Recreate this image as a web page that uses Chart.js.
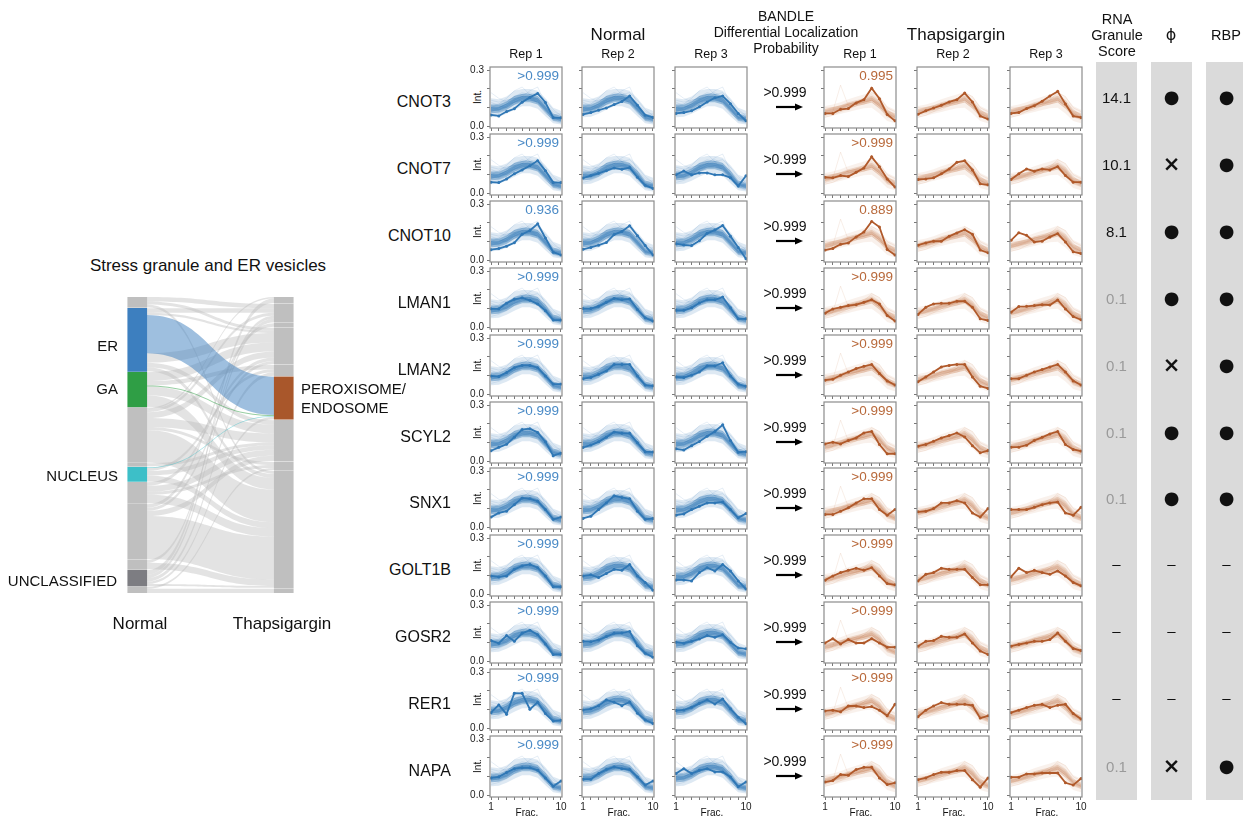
<!DOCTYPE html>
<html>
<head>
<meta charset="utf-8">
<script src="https://cdn.jsdelivr.net/npm/chart.js@4.4.1/dist/chart.umd.min.js"></script>
<style>
  body { margin: 0; background: #fff; font-family: 'Liberation Sans', Arial, sans-serif; color: #111; }
  #page { position: relative; width: 1243px; height: 819px; overflow: hidden; background: #fff; }
  .t { position: absolute; white-space: nowrap; line-height: 1; }
  canvas { position: absolute; }
  .col { position: absolute; background: #dadada; }
  svg { position: absolute; }
</style>
</head>
<body>
<div id="page"></div>
<script>
// ---- data ----
const fractions = [1, 2, 3, 4, 5, 6, 7, 8, 9, 10];
const yTicks = [0, 0.05, 0.1, 0.15, 0.2, 0.25, 0.3];
const proteins = ["CNOT3", "CNOT7", "CNOT10", "LMAN1", "LMAN2", "SCYL2", "SNX1", "GOLT1B", "GOSR2", "RER1", "NAPA"];

const normalRep1 = [
  [0.062, 0.057, 0.080, 0.095, 0.130, 0.155, 0.176, 0.128, 0.048, 0.047],
  [0.061, 0.059, 0.078, 0.105, 0.126, 0.148, 0.174, 0.122, 0.059, 0.059],
  [0.058, 0.064, 0.077, 0.095, 0.140, 0.160, 0.195, 0.120, 0.045, 0.030],
  [0.100, 0.100, 0.130, 0.150, 0.158, 0.145, 0.125, 0.090, 0.040, 0.040],
  [0.099, 0.096, 0.117, 0.143, 0.155, 0.155, 0.143, 0.099, 0.056, 0.056],
  [0.058, 0.076, 0.092, 0.130, 0.170, 0.175, 0.155, 0.105, 0.032, 0.045],
  [0.056, 0.078, 0.087, 0.122, 0.157, 0.153, 0.140, 0.096, 0.044, 0.056],
  [0.099, 0.094, 0.099, 0.134, 0.152, 0.160, 0.143, 0.099, 0.042, 0.042],
  [0.112, 0.098, 0.138, 0.108, 0.150, 0.167, 0.143, 0.094, 0.038, 0.038],
  [0.085, 0.126, 0.077, 0.188, 0.187, 0.103, 0.140, 0.080, 0.040, 0.044],
  [0.094, 0.100, 0.123, 0.143, 0.148, 0.148, 0.135, 0.093, 0.050, 0.078]
];
const normalRep2 = [
  [0.065, 0.075, 0.087, 0.099, 0.117, 0.133, 0.162, 0.113, 0.061, 0.049],
  [0.083, 0.096, 0.108, 0.122, 0.136, 0.129, 0.138, 0.087, 0.044, 0.028],
  [0.060, 0.070, 0.082, 0.096, 0.138, 0.155, 0.185, 0.132, 0.080, 0.030],
  [0.101, 0.101, 0.113, 0.134, 0.155, 0.148, 0.152, 0.096, 0.052, 0.035],
  [0.085, 0.091, 0.108, 0.126, 0.160, 0.160, 0.160, 0.099, 0.051, 0.047],
  [0.075, 0.088, 0.105, 0.130, 0.157, 0.150, 0.150, 0.100, 0.053, 0.051],
  [0.049, 0.061, 0.096, 0.131, 0.169, 0.160, 0.153, 0.087, 0.044, 0.049],
  [0.099, 0.105, 0.091, 0.112, 0.134, 0.129, 0.160, 0.099, 0.065, 0.024],
  [0.108, 0.106, 0.115, 0.133, 0.150, 0.152, 0.160, 0.085, 0.045, 0.024],
  [0.099, 0.105, 0.122, 0.152, 0.140, 0.122, 0.141, 0.082, 0.046, 0.028],
  [0.087, 0.087, 0.117, 0.138, 0.152, 0.143, 0.138, 0.099, 0.056, 0.078]
];
const normalRep3 = [
  [0.070, 0.075, 0.084, 0.105, 0.131, 0.153, 0.162, 0.122, 0.070, 0.031],
  [0.100, 0.120, 0.100, 0.110, 0.110, 0.100, 0.100, 0.085, 0.040, 0.095],
  [0.090, 0.083, 0.080, 0.105, 0.145, 0.162, 0.186, 0.130, 0.070, 0.010],
  [0.092, 0.092, 0.105, 0.131, 0.148, 0.148, 0.162, 0.105, 0.047, 0.047],
  [0.094, 0.091, 0.103, 0.120, 0.152, 0.152, 0.169, 0.099, 0.056, 0.044],
  [0.068, 0.062, 0.085, 0.107, 0.134, 0.160, 0.195, 0.112, 0.050, 0.053],
  [0.066, 0.073, 0.096, 0.113, 0.131, 0.131, 0.136, 0.096, 0.052, 0.075],
  [0.078, 0.078, 0.073, 0.117, 0.143, 0.126, 0.160, 0.126, 0.073, 0.030],
  [0.103, 0.098, 0.108, 0.120, 0.138, 0.129, 0.143, 0.103, 0.073, 0.068],
  [0.096, 0.099, 0.113, 0.134, 0.152, 0.131, 0.157, 0.105, 0.061, 0.026],
  [0.117, 0.143, 0.117, 0.134, 0.143, 0.126, 0.126, 0.099, 0.047, 0.073]
];
const thapRep1 = [
  [0.070, 0.070, 0.092, 0.096, 0.126, 0.143, 0.204, 0.148, 0.065, 0.031],
  [0.087, 0.084, 0.096, 0.091, 0.113, 0.136, 0.195, 0.143, 0.078, 0.035],
  [0.056, 0.065, 0.087, 0.094, 0.126, 0.152, 0.208, 0.178, 0.059, 0.030],
  [0.077, 0.099, 0.108, 0.117, 0.122, 0.134, 0.148, 0.126, 0.065, 0.035],
  [0.077, 0.082, 0.103, 0.120, 0.138, 0.150, 0.160, 0.112, 0.073, 0.051],
  [0.094, 0.103, 0.094, 0.112, 0.126, 0.152, 0.160, 0.091, 0.042, 0.042],
  [0.070, 0.070, 0.087, 0.105, 0.131, 0.153, 0.153, 0.096, 0.066, 0.096],
  [0.077, 0.099, 0.117, 0.129, 0.140, 0.129, 0.143, 0.099, 0.059, 0.052],
  [0.099, 0.122, 0.094, 0.117, 0.099, 0.099, 0.122, 0.099, 0.077, 0.077],
  [0.094, 0.098, 0.089, 0.120, 0.120, 0.112, 0.117, 0.098, 0.068, 0.129],
  [0.072, 0.080, 0.112, 0.108, 0.138, 0.150, 0.150, 0.094, 0.059, 0.068]
];
const thapRep2 = [
  [0.066, 0.084, 0.099, 0.113, 0.131, 0.143, 0.178, 0.131, 0.056, 0.040],
  [0.075, 0.078, 0.084, 0.105, 0.131, 0.166, 0.174, 0.126, 0.052, 0.047],
  [0.082, 0.094, 0.103, 0.103, 0.129, 0.147, 0.164, 0.140, 0.056, 0.042],
  [0.070, 0.108, 0.126, 0.129, 0.129, 0.140, 0.140, 0.108, 0.047, 0.038],
  [0.068, 0.094, 0.120, 0.147, 0.155, 0.160, 0.160, 0.094, 0.045, 0.033],
  [0.082, 0.091, 0.108, 0.126, 0.138, 0.152, 0.131, 0.085, 0.047, 0.059],
  [0.084, 0.087, 0.101, 0.131, 0.131, 0.143, 0.131, 0.078, 0.056, 0.101],
  [0.073, 0.108, 0.117, 0.140, 0.134, 0.134, 0.134, 0.091, 0.052, 0.052],
  [0.082, 0.108, 0.112, 0.134, 0.129, 0.129, 0.147, 0.099, 0.056, 0.038],
  [0.063, 0.098, 0.120, 0.138, 0.129, 0.129, 0.129, 0.124, 0.056, 0.068],
  [0.085, 0.094, 0.112, 0.124, 0.124, 0.133, 0.133, 0.085, 0.045, 0.094]
];
const thapRep3 = [
  [0.070, 0.075, 0.096, 0.111, 0.135, 0.163, 0.187, 0.120, 0.056, 0.049],
  [0.075, 0.105, 0.131, 0.119, 0.131, 0.126, 0.143, 0.096, 0.061, 0.061],
  [0.108, 0.148, 0.134, 0.099, 0.103, 0.126, 0.143, 0.099, 0.047, 0.038],
  [0.082, 0.112, 0.113, 0.117, 0.122, 0.120, 0.147, 0.099, 0.059, 0.042],
  [0.085, 0.085, 0.103, 0.120, 0.133, 0.147, 0.160, 0.120, 0.073, 0.051],
  [0.077, 0.077, 0.087, 0.112, 0.129, 0.147, 0.160, 0.091, 0.065, 0.056],
  [0.096, 0.096, 0.096, 0.108, 0.122, 0.131, 0.136, 0.078, 0.066, 0.108],
  [0.094, 0.140, 0.117, 0.129, 0.117, 0.108, 0.126, 0.099, 0.065, 0.047],
  [0.082, 0.091, 0.099, 0.108, 0.108, 0.117, 0.152, 0.108, 0.070, 0.059],
  [0.085, 0.098, 0.112, 0.124, 0.129, 0.112, 0.124, 0.129, 0.080, 0.051],
  [0.098, 0.098, 0.115, 0.115, 0.120, 0.120, 0.120, 0.068, 0.056, 0.091]
];

// cluster envelopes and member profiles drawn behind each protein
const normalOuterLo = [0.050, 0.052, 0.068, 0.090, 0.108, 0.108, 0.095, 0.055, 0.018, 0.012];
const normalOuterHi = [0.150, 0.145, 0.160, 0.190, 0.200, 0.200, 0.190, 0.150, 0.100, 0.085];
const normalInnerLo = [0.072, 0.074, 0.090, 0.115, 0.130, 0.130, 0.118, 0.075, 0.032, 0.025];
const normalInnerHi = [0.118, 0.118, 0.135, 0.163, 0.175, 0.175, 0.162, 0.120, 0.068, 0.058];
const normalCoreLo = [0.082, 0.084, 0.100, 0.126, 0.140, 0.140, 0.128, 0.085, 0.040, 0.032];
const normalCoreHi = [0.106, 0.106, 0.123, 0.150, 0.163, 0.163, 0.150, 0.108, 0.058, 0.048];
const normalMembers = [
  [0.08, 0.09, 0.11, 0.14, 0.16, 0.16, 0.14, 0.10, 0.05, 0.03],
  [0.11, 0.11, 0.13, 0.16, 0.17, 0.16, 0.15, 0.11, 0.06, 0.05],
  [0.07, 0.08, 0.10, 0.13, 0.15, 0.15, 0.14, 0.09, 0.04, 0.03],
  [0.12, 0.12, 0.14, 0.15, 0.16, 0.15, 0.13, 0.09, 0.05, 0.04],
  [0.09, 0.10, 0.12, 0.16, 0.18, 0.17, 0.15, 0.10, 0.04, 0.02],
  [0.10, 0.09, 0.11, 0.13, 0.14, 0.15, 0.15, 0.12, 0.07, 0.05],
  [0.14, 0.13, 0.14, 0.15, 0.17, 0.18, 0.16, 0.12, 0.08, 0.06],
  [0.06, 0.07, 0.09, 0.12, 0.14, 0.14, 0.13, 0.08, 0.03, 0.02],
  [0.18, 0.15, 0.13, 0.14, 0.16, 0.19, 0.21, 0.12, 0.05, 0.04],
  [0.10, 0.12, 0.15, 0.19, 0.21, 0.17, 0.12, 0.07, 0.04, 0.05],
  [0.08, 0.10, 0.12, 0.13, 0.15, 0.17, 0.18, 0.14, 0.09, 0.06],
  [0.13, 0.11, 0.10, 0.12, 0.14, 0.14, 0.13, 0.10, 0.06, 0.07]
];
const thapOuterLo = [0.048, 0.058, 0.068, 0.078, 0.088, 0.098, 0.100, 0.070, 0.030, 0.018];
const thapOuterHi = [0.110, 0.118, 0.130, 0.145, 0.158, 0.170, 0.185, 0.160, 0.110, 0.090];
const thapInnerLo = [0.064, 0.074, 0.084, 0.098, 0.108, 0.118, 0.128, 0.095, 0.050, 0.035];
const thapInnerHi = [0.094, 0.104, 0.114, 0.130, 0.140, 0.150, 0.165, 0.138, 0.088, 0.068];
const thapCoreLo = [0.071, 0.081, 0.091, 0.106, 0.116, 0.126, 0.138, 0.106, 0.060, 0.043];
const thapCoreHi = [0.087, 0.097, 0.107, 0.122, 0.132, 0.142, 0.156, 0.127, 0.078, 0.059];
const thapMembers = [
  [0.07, 0.08, 0.09, 0.10, 0.12, 0.13, 0.15, 0.12, 0.07, 0.05],
  [0.08, 0.09, 0.10, 0.11, 0.12, 0.14, 0.16, 0.13, 0.08, 0.06],
  [0.06, 0.07, 0.08, 0.10, 0.11, 0.12, 0.14, 0.11, 0.06, 0.04],
  [0.09, 0.10, 0.11, 0.12, 0.13, 0.13, 0.14, 0.11, 0.07, 0.05],
  [0.07, 0.08, 0.10, 0.12, 0.13, 0.15, 0.17, 0.14, 0.09, 0.06],
  [0.10, 0.10, 0.11, 0.12, 0.12, 0.12, 0.13, 0.10, 0.08, 0.07],
  [0.05, 0.06, 0.08, 0.09, 0.11, 0.14, 0.18, 0.16, 0.10, 0.08]
];
const thapRep1Outlier = [0.06, 0.08, 0.22, 0.11, 0.12, 0.13, 0.14, 0.12, 0.07, 0.04];

const normalProb = [">0.999", ">0.999", "0.936", ">0.999", ">0.999", ">0.999", ">0.999", ">0.999", ">0.999", ">0.999", ">0.999"];
const thapProb = ["0.995", ">0.999", "0.889", ">0.999", ">0.999", ">0.999", ">0.999", ">0.999", ">0.999", ">0.999", ">0.999"];
const bandleProb = [">0.999", ">0.999", ">0.999", ">0.999", ">0.999", ">0.999", ">0.999", ">0.999", ">0.999", ">0.999", ">0.999"];
const rnaScore = ["14.1", "10.1", "8.1", "0.1", "0.1", "0.1", "0.1", "–", "–", "–", "0.1"];
const phiMark = ["●", "×", "●", "●", "×", "●", "●", "–", "–", "–", "×"];
const rbpMark = ["●", "●", "●", "●", "●", "●", "●", "–", "–", "–", "●"];

// sankey: node order per column and flows (source, target, share)
const normalNodes = ["n1", "ER", "GA", "n2", "n3", "NUCLEUS", "n4", "n5", "n6", "UNCLASSIFIED", "n7"];
const thapNodes = ["t1", "t2", "t3", "t4", "t5", "PEROXISOME", "t6", "t7", "t8", "t9"];
const flows = [
  ["n1", "t2", 1.5], ["n1", "t4", 1.0], ["n1", "t8", 1.0],
  ["ER", "t2", 1.5], ["ER", "t4", 0.8], ["ER", "PEROXISOME", 12.9], ["ER", "t4", 3.2], ["ER", "t6", 1.5], ["ER", "t8", 1.4],
  ["GA", "t4", 3.0], ["GA", "t5", 1.5], ["GA", "PEROXISOME", 0.3], ["GA", "t6", 3.0], ["GA", "t8", 3.9],
  ["n2", "t1", 0.5], ["n2", "t2", 1.0], ["n2", "t4", 2.0], ["n2", "t6", 3.0], ["n2", "t7", 1.0], ["n2", "t8", 11.0],
  ["n3", "t6", 1.0],
  ["NUCLEUS", "PEROXISOME", 0.3], ["NUCLEUS", "t5", 1.0], ["NUCLEUS", "t6", 1.5], ["NUCLEUS", "t8", 2.0],
  ["n4", "t4", 1.2], ["n4", "t6", 2.0], ["n4", "t7", 1.0], ["n4", "t8", 2.9],
  ["n5", "t3", 1.2], ["n5", "t4", 1.0], ["n5", "t6", 1.8], ["n5", "t8", 14.5],
  ["n6", "t2", 1.0], ["n6", "t8", 2.2],
  ["UNCLASSIFIED", "t1", 1.5], ["UNCLASSIFIED", "t2", 1.2], ["UNCLASSIFIED", "t5", 1.2], ["UNCLASSIFIED", "PEROXISOME", 0.8], ["UNCLASSIFIED", "t8", 0.6],
  ["n7", "t7", 0.7], ["n7", "t9", 1.4]
];
const nodeColors = { ER: "#3d7fbf", GA: "#2f9e45", NUCLEUS: "#3dbfc8", UNCLASSIFIED: "#7d7d82", PEROXISOME: "#a9572b" };

// ---- setup ----
const FONT = "'Liberation Sans', Arial, sans-serif";
Chart.defaults.font.family = FONT;
Chart.defaults.animation = false;
Chart.defaults.events = [];
Chart.defaults.plugins.legend.display = false;
Chart.defaults.plugins.tooltip.enabled = false;

const page = document.getElementById("page");

function txt(s, x, y, o) {
  o = o || {};
  const d = document.createElement("div");
  d.className = "t";
  d.textContent = s;
  d.style.left = x + "px";
  d.style.top = y + "px";
  d.style.fontSize = (o.size || 12) + "px";
  if (o.color) d.style.color = o.color;
  if (o.weight) d.style.fontWeight = o.weight;
  if (o.family) d.style.fontFamily = o.family;
  const tx = o.align === "right" ? "-100%" : o.align === "left" ? "0" : "-50%";
  d.style.transform = `translate(${tx},-50%)` + (o.rot ? ` rotate(${o.rot}deg)` : "");
  page.appendChild(d);
  return d;
}

function addCanvas(left, top, w, h) {
  const c = document.createElement("canvas");
  c.width = w; c.height = h;
  c.style.left = left + "px"; c.style.top = top + "px";
  c.style.width = w + "px"; c.style.height = h + "px";
  page.appendChild(c);
  return c;
}

// ---- small multiples ----
const BOX_W = 72, BOX_H = 62, ROW_TOP = 66, ROW_STEP = 66.9;
const PAD_L = 30, PAD_T = 8, PAD_R = 8, PAD_B = 22;

const styles = {
  normal: {
    line: "#2f77b5", text: "#4a8ac6",
    bands: [[normalOuterLo, normalOuterHi, "rgba(47,119,181,0.16)"],
            [normalInnerLo, normalInnerHi, "rgba(47,119,181,0.40)"],
            [normalCoreLo, normalCoreHi, "rgba(47,119,181,0.45)"]],
    faint: "rgba(47,119,181,0.12)", members: normalMembers
  },
  thap: {
    line: "#b0592a", text: "#b8693b",
    bands: [[thapOuterLo, thapOuterHi, "rgba(200,120,70,0.10)"],
            [thapInnerLo, thapInnerHi, "rgba(190,110,60,0.22)"],
            [thapCoreLo, thapCoreHi, "rgba(180,100,55,0.22)"]],
    faint: "rgba(200,125,80,0.13)", members: thapMembers
  }
};

const frame = {
  id: "frame",
  afterDraw(chart) {
    const { ctx, chartArea: a } = chart;
    ctx.save();
    ctx.strokeStyle = "#8c8c8c";
    ctx.lineWidth = 1.2;
    ctx.strokeRect(a.left, a.top, a.right - a.left, a.bottom - a.top);
    ctx.restore();
  }
};

function panel(left, top, profile, cond, showY, showX, extra) {
  const st = styles[cond];
  const canvas = addCanvas(left - PAD_L, top - PAD_T, BOX_W + PAD_L + PAD_R, BOX_H + PAD_T + PAD_B);
  const hidden = { borderColor: "transparent", borderWidth: 0, pointRadius: 0, fill: false };
  const datasets = [
    { data: profile, borderColor: st.line, backgroundColor: st.line, borderWidth: 1.8,
      pointRadius: 1.5, pointBorderWidth: 0, pointBackgroundColor: st.line, fill: false, order: 0 }
  ];
  st.bands.forEach(([lo, hi, fillColor], k) => {
    datasets.push(Object.assign({}, hidden, { data: lo, order: 9 - k }));
    datasets.push(Object.assign({}, hidden, { data: hi, fill: "-1", backgroundColor: fillColor, order: 9 - k }));
  });
  st.members.concat(extra ? [extra] : []).forEach(p => datasets.push({
    data: p, borderColor: st.faint, borderWidth: 1, pointRadius: 0, fill: false, order: 5
  }));
  const tickGrid = { drawOnChartArea: false, drawTicks: true, tickLength: 3, tickColor: "#555", tickWidth: 0.8 };
  new Chart(canvas, {
    type: "line",
    data: { labels: fractions, datasets },
    options: {
      responsive: false,
      layout: { padding: { top: PAD_T, right: PAD_R, left: 0, bottom: 0 } },
      scales: {
        x: {
          type: "linear", min: 0.87, max: 10.13, bounds: "data",
          afterBuildTicks: s => { s.ticks = fractions.map(v => ({ value: v })); },
          afterFit: s => { s.height = PAD_B; },
          grid: tickGrid, border: { display: false },
          ticks: { autoSkip: false, maxRotation: 0, padding: 1, color: "#222", font: { size: 10 },
            callback: (v, i) => (showX && (i === 0 || i === fractions.length - 1)) ? String(fractions[i]) : "" }
        },
        y: {
          min: -0.007, max: 0.316, bounds: "data",
          afterBuildTicks: s => { s.ticks = yTicks.map(v => ({ value: v })); },
          afterFit: s => { s.width = PAD_L; },
          grid: tickGrid, border: { display: false },
          ticks: { padding: 3, color: "#222", font: { size: 10 },
            callback: (v, i) => (showY && (i === 0 || i === yTicks.length - 1)) ? yTicks[i].toFixed(1) : "" }
        }
      }
    },
    plugins: [frame]
  });
}

const columns = [
  { left: 490, cond: "normal", reps: normalRep1, prob: normalProb, title: "Rep 1" },
  { left: 582, cond: "normal", reps: normalRep2, title: "Rep 2" },
  { left: 675, cond: "normal", reps: normalRep3, title: "Rep 3" },
  { left: 824, cond: "thap", reps: thapRep1, prob: thapProb, title: "Rep 1", extra: thapRep1Outlier },
  { left: 917, cond: "thap", reps: thapRep2, title: "Rep 2" },
  { left: 1010, cond: "thap", reps: thapRep3, title: "Rep 3" }
];

proteins.forEach((name, r) => {
  const top = Math.round(ROW_TOP + r * ROW_STEP);
  const last = r === proteins.length - 1;
  txt(name, 451, top + 36, { size: 16 , align: "right" });
  txt("Int.", 478, top + 31, { size: 10, rot: -90 });
  columns.forEach((c, ci) => {
    panel(c.left, top, c.reps[r], c.cond, ci === 0, last, c.extra);
    if (c.prob) txt(c.prob[r], c.left + BOX_W - 3, top + 10, { size: 13.5, align: "right", color: styles[c.cond].text });
    if (last) txt("Frac.", c.left + 37, 813, { size: 10 });
  });
  // BANDLE probability + arrow
  txt(bandleProb[r], 785, top + 26, { size: 14 });
  const svg = document.createElementNS("http://www.w3.org/2000/svg", "svg");
  svg.setAttribute("width", "28"); svg.setAttribute("height", "8");
  svg.style.left = "776px"; svg.style.top = (top + 37) + "px";
  svg.innerHTML = '<line x1="0" y1="4" x2="21" y2="4" stroke="#000" stroke-width="2.2"/><polygon points="19,0.5 27,4 19,7.5" fill="#000"/>';
  page.appendChild(svg);
});

// headers
columns.forEach(c => txt(c.title, c.left + BOX_W / 2, 54, { size: 12.5 }));
txt("Normal", 618, 34, { size: 17 });
txt("Thapsigargin", 956, 34, { size: 17 });
txt("BANDLE", 786, 16, { size: 14 });
txt("Differential Localization", 786, 32, { size: 14 });
txt("Probability", 786, 48, { size: 14 });

// right-hand annotation columns
const tableCols = [
  { left: 1096, vals: rnaScore },
  { left: 1151, vals: phiMark },
  { left: 1206, vals: rbpMark }
];
tableCols.forEach(tc => {
  const d = document.createElement("div");
  d.className = "col";
  d.style.left = tc.left + "px"; d.style.top = "62px";
  d.style.width = "41px"; d.style.height = "738px";
  page.appendChild(d);
});
txt("RNA", 1117, 19, { size: 14.5 });
txt("Granule", 1117, 35, { size: 14.5 });
txt("Score", 1117, 51, { size: 14.5 });
txt("ϕ", 1171, 35, { size: 16, family: "'DejaVu Sans', sans-serif" });
txt("RBP", 1226, 35, { size: 14.5 });
proteins.forEach((name, r) => {
  const cy = Math.round(ROW_TOP + r * ROW_STEP) + 31;
  tableCols.forEach(tc => {
    const v = tc.vals[r];
    const cx = tc.left + 20.5;
    if (v === "●") txt(v, cx, cy, { size: 18, family: "'DejaVu Sans', sans-serif" });
    else if (v === "×") txt(v, cx, cy, { size: 21, weight: "bold", family: "'DejaVu Sans', sans-serif" });
    else if (v === "–") txt(v, cx, cy - 2, { size: 15 });
    else txt(v, cx, cy, { size: 15, color: parseFloat(v) < 1 ? "#9a9a9a" : "#111" });
  });
});

// ---- sankey ----
const NODE_W = 19;
function stackColumn(names) {
  const size = {};
  names.forEach(n => { size[n] = 0; });
  flows.forEach(([s, t, v]) => { if (s in size) size[s] += v; if (t in size) size[t] += v; });
  const total = names.reduce((a, n) => a + size[n], 0);
  const gap = (100 - total) / (names.length - 1);
  const pos = {};
  let y = 0;
  names.forEach(n => { pos[n] = [y, y + size[n]]; y += size[n] + gap; });
  return pos;
}
const normalPos = stackColumn(normalNodes);
const thapPos = stackColumn(thapNodes);

const flowLayout = flows.map(([s, t, v], i) => ({ s, t, v, i }));
const srcCursor = {};
normalNodes.forEach(n => { srcCursor[n] = normalPos[n][0]; });
flowLayout.forEach(f => { f.s0 = srcCursor[f.s]; srcCursor[f.s] += f.v; });
const tgtCursor = {};
thapNodes.forEach(n => { tgtCursor[n] = thapPos[n][0]; });
flowLayout.slice().sort((a, b) => (normalNodes.indexOf(a.s) - normalNodes.indexOf(b.s)) || (a.i - b.i))
  .forEach(f => { f.t0 = tgtCursor[f.t]; tgtCursor[f.t] += f.v; });
flowLayout.forEach(f => {
  const col = nodeColors[f.s];
  f.color = (f.t === "PEROXISOME" && col && f.s !== "UNCLASSIFIED") ? col + "80" : "rgba(188,188,188,0.42)";
});
// colored flows on top
flowLayout.sort((a, b) => (a.color.startsWith("#") ? 1 : 0) - (b.color.startsWith("#") ? 1 : 0));

const flowPlugin = {
  id: "flows",
  beforeDatasetsDraw(chart) {
    const { ctx, scales: { x, y } } = chart;
    const x0 = x.getPixelForValue(0) + NODE_W / 2;
    const x1 = x.getPixelForValue(1) - NODE_W / 2;
    const xm = (x0 + x1) / 2;
    ctx.save();
    flowLayout.forEach(f => {
      const a0 = y.getPixelForValue(f.s0), a1 = y.getPixelForValue(f.s0 + f.v);
      const b0 = y.getPixelForValue(f.t0), b1 = y.getPixelForValue(f.t0 + f.v);
      ctx.beginPath();
      ctx.moveTo(x0, a0);
      ctx.bezierCurveTo(xm, a0, xm, b0, x1, b0);
      ctx.lineTo(x1, b1);
      ctx.bezierCurveTo(xm, b1, xm, a1, x0, a1);
      ctx.closePath();
      ctx.fillStyle = f.color;
      ctx.fill();
    });
    ctx.restore();
  }
};

const sankeyDatasets = [];
normalNodes.forEach(n => sankeyDatasets.push({
  data: [normalPos[n], null], backgroundColor: nodeColors[n] || "#bfbfbf",
  grouped: false, barThickness: NODE_W, borderWidth: 0
}));
thapNodes.forEach(n => sankeyDatasets.push({
  data: [null, thapPos[n]], backgroundColor: nodeColors[n] || "#bfbfbf",
  grouped: false, barThickness: NODE_W, borderWidth: 0
}));

new Chart(addCanvas(64, 297, 293, 296), {
  type: "bar",
  data: { labels: ["Normal", "Thapsigargin"], datasets: sankeyDatasets },
  options: {
    responsive: false,
    layout: { padding: 0 },
    scales: {
      x: { display: false, offset: true },
      y: { display: false, min: 0, max: 100, reverse: true }
    }
  },
  plugins: [flowPlugin]
});

txt("Stress granule and ER vesicles", 208, 265, { size: 17 });
txt("ER", 118, 345, { size: 15, align: "right" });
txt("GA", 118, 388, { size: 15, align: "right" });
txt("NUCLEUS", 118, 475, { size: 15, align: "right" });
txt("UNCLASSIFIED", 117, 580, { size: 15, align: "right" });
txt("PEROXISOME/", 301, 388, { size: 15, align: "left" });
txt("ENDOSOME", 301, 407, { size: 15, align: "left" });
txt("Normal", 140, 623, { size: 17 });
txt("Thapsigargin", 282, 623, { size: 17 });
</script>
</body>
</html>
